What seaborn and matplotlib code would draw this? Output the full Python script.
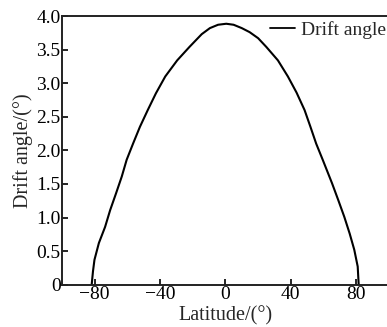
import numpy as np
import pandas as pd
import matplotlib
matplotlib.use("Agg")
import matplotlib.pyplot as plt
import seaborn as sns

# values
latitude = [-81.8, -81.0, -80.1, -77.4, -73.6, -70.5, -66.9, -63.4, -60.4, -56.5,
            -52.3, -47.5, -42.5, -36.8, -29.5, -22.0, -14.5, -9.5, -4.5, 0.5,
            5.0, 10.0, 14.8, 20.0, 25.0, 32.1, 38.2, 43.5, 48.4, 52.0,
            55.5, 59.5, 65.2, 69.0, 72.7, 76.0, 78.8, 80.9, 81.5]
drift = [0.0, 0.20, 0.37, 0.62, 0.86, 1.11, 1.36, 1.61, 1.86, 2.10,
         2.35, 2.60, 2.85, 3.10, 3.34, 3.54, 3.73, 3.82, 3.87, 3.885,
         3.87, 3.82, 3.76, 3.67, 3.54, 3.34, 3.10, 2.86, 2.60, 2.35,
         2.10, 1.86, 1.51, 1.26, 1.01, 0.76, 0.52, 0.27, 0.0]
xticks = [-80, -40, 0, 40, 80]
yticks = [0, 0.5, 1.0, 1.5, 2.0, 2.5, 3.0, 3.5, 4.0]
ytick_labels = ["0", "0.5", "1.0", "1.5", "2.0", "2.5", "3.0", "3.5", "4.0"]

df = pd.DataFrame({"Latitude": latitude, "Drift angle": drift})

sns.set_style("ticks")
plt.rcParams["font.family"] = ["Liberation Serif", "DejaVu Serif"]
plt.rcParams["axes.unicode_minus"] = True

fig = plt.figure(figsize=(3.87, 3.27), dpi=100)
ax = fig.add_axes([0.160, 0.1294, 0.845, 0.8216])

sns.lineplot(data=df, x="Latitude", y="Drift angle", ax=ax, color="black",
             linewidth=1.5, sort=False, label="Drift angle")

ax.set_xlim(-100, 100)
ax.set_ylim(0, 4.0)
ax.set_xticks(xticks)
ax.set_xticklabels([f"\u2212{abs(v)}" if v < 0 else str(v) for v in xticks])
ax.set_yticks(yticks)
ax.set_yticklabels(ytick_labels)
ax.tick_params(direction="in", length=4, width=1.2, labelsize=14, colors="black", pad=1)
for s in ax.spines.values():
    s.set_linewidth(1.4)
    s.set_color("#222222")

ax.set_xlabel("Latitude/(°)", fontsize=14.5, labelpad=2)
ax.set_ylabel("Drift angle/(°)", fontsize=14.5, labelpad=2)

leg = ax.legend(loc="upper right", bbox_to_anchor=(0.997, 0.935), bbox_transform=fig.transFigure,
                frameon=False, fontsize=14, handlelength=1.3, handletextpad=0.3,
                borderaxespad=0, borderpad=0.0)
for h in leg.get_lines():
    h.set_linewidth(1.3)

fig.savefig("out.png", dpi=100)
plt.close(fig)
